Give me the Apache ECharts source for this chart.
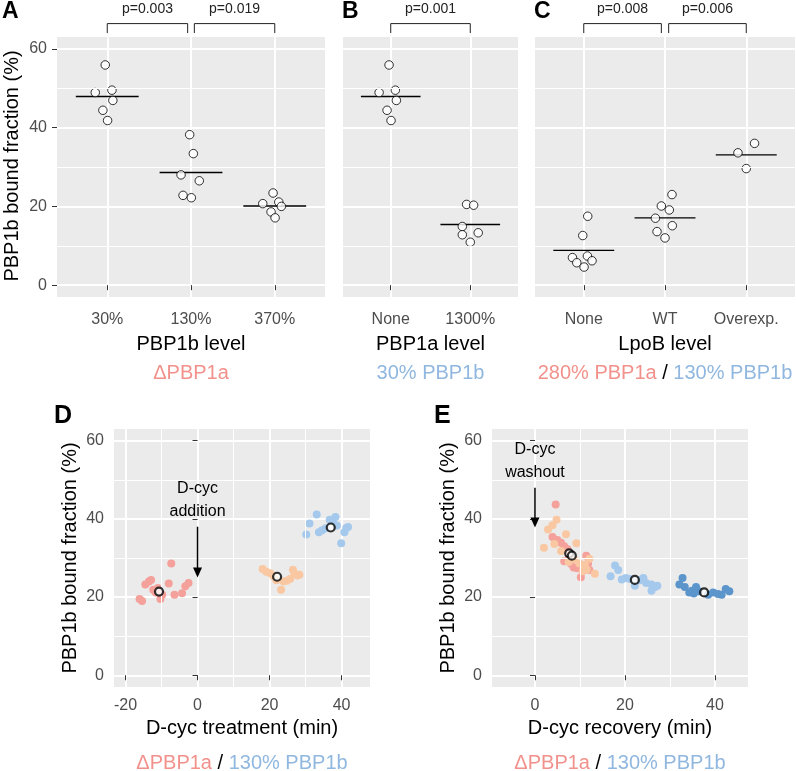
<!DOCTYPE html>
<html><head><meta charset="utf-8">
<script src="https://cdn.jsdelivr.net/npm/echarts@6/dist/echarts.min.js"></script>
<style>html,body{margin:0;padding:0;background:#fff}#c{width:796px;height:771px}</style>
</head><body><div id="c"></div>
<script>
// ================= DATA =================
const catsA = ['30%', '130%', '370%'];
const catsB = ['None', '1300%'];
const catsC = ['None', 'WT', 'Overexp.'];
const yTicks = [0, 20, 40, 60];
const yMinor = [10, 30, 50];
const catTicks3 = [1, 2, 3];
const catTicks2 = [1, 2];
const xTicksD = [-20, 0, 20, 40];
const xMinorD = [-10, 10, 30];
const xTicksE = [0, 20, 40];
const xMinorE = [10, 30];

// Panel A: [category position (1-based, with jitter), bound fraction %]
const pointsA = [
  [0.976, 55.9], [0.857, 48.9], [1.056, 49.5], [1.067, 46.9], [0.948, 44.4], [1.004, 41.8],
  [1.984, 38.2], [2.028, 33.4], [1.881, 28.0], [2.099, 26.5], [1.905, 22.8], [2.004, 22.2],
  [2.980, 23.4], [2.857, 20.7], [3.048, 21.1], [3.079, 20.0], [2.956, 18.6], [3.004, 17.1]
];
const meansA = [[1, 47.9], [2, 28.6], [3, 20.1]];
const bracketsA = [[1, 1.96], [2.04, 3]];
const pValsA = ['p=0.003', 'p=0.019'];

// Panel B
const pointsB = [
  [0.979, 55.9], [0.854, 48.9], [1.058, 49.5], [1.071, 46.9], [0.954, 44.4], [1.004, 41.8],
  [1.954, 20.5], [2.042, 20.3], [1.900, 14.9], [2.100, 13.3], [1.900, 12.8], [2.000, 10.9]
];
const meansB = [[1, 47.9], [2, 15.4]];
const bracketsB = [[1, 2]];
const pValsB = ['p=0.001'];

// Panel C
const pointsC = [
  [1.049, 17.5], [0.988, 12.6], [0.861, 7.0], [1.045, 7.4], [0.914, 5.7], [1.102, 6.2], [1.004, 4.6],
  [2.086, 23.0], [1.955, 20.1], [2.053, 19.1], [1.882, 17.0], [2.090, 15.1], [1.902, 13.6], [2.000, 12.0],
  [3.102, 36.0], [2.898, 33.6], [3.000, 29.6]
];
const meansC = [[1, 8.85], [2, 17.1], [3, 33.1]];
const bracketsC = [[1, 1.955], [2.045, 3]];
const pValsC = ['p=0.008', 'p=0.006'];

// Panel D: [time (min), bound fraction %]
const dPink = [
  [-16.1, 19.5], [-15.4, 19.0], [-14.5, 23.2], [-13.5, 24.0], [-12.9, 24.4], [-12.3, 21.9],
  [-11.6, 21.2], [-11.0, 22.3], [-10.3, 19.5], [-9.8, 20.6], [-8.0, 23.5], [-7.3, 28.6],
  [-6.4, 20.6], [-4.3, 21.0], [-3.4, 22.8], [-2.5, 23.6]
];
const dPeach = [
  [18.1, 27.2], [19.1, 26.5], [20.2, 26.1], [21.1, 25.3], [21.9, 24.3], [23.2, 21.9],
  [23.9, 24.0], [24.8, 24.2], [25.7, 24.6], [26.5, 27.0], [26.9, 26.1], [27.7, 25.5], [28.3, 25.7]
];
const dBlue = [
  [30.2, 36.0], [31.1, 38.8], [33.1, 41.1], [33.7, 36.6], [34.6, 37.1], [35.6, 37.6], [36.7, 39.8],
  [37.6, 39.6], [38.3, 40.5], [38.7, 38.3], [39.9, 33.8], [40.8, 36.6], [41.3, 37.7], [41.8, 37.9]
];
const dMeans = [[-10.7, 21.4], [22.1, 25.2], [37.0, 37.8]];
const dArrow = [[0, 38.0, 25.0, 44.8]];
const dArrowText = ['D-cyc\naddition'];

// Panel E
const ePink = [
  [4.6, 43.7], [3.9, 35.4], [5.0, 34.6], [5.8, 33.9], [6.5, 33.0], [7.2, 32.3], [6.5, 29.2],
  [7.6, 30.4], [8.0, 28.5], [8.6, 27.6], [9.4, 27.4], [10.2, 25.1], [11.4, 30.6], [11.8, 28.6], [12.1, 26.9]
];
const ePeach = [
  [4.8, 39.8], [3.9, 38.4], [2.9, 37.3], [2.0, 32.6], [4.3, 33.6], [6.9, 36.1], [9.2, 33.8], [5.8, 31.8],
  [8.7, 29.6], [9.9, 28.6], [11.1, 28.3], [12.1, 29.8], [11.5, 27.0], [13.3, 26.0], [10.6, 26.6], [7.5, 29.0]
];
const eLightBlue = [
  [16.8, 25.3], [17.8, 28.1], [18.5, 26.9], [19.3, 24.5], [20.2, 24.9], [21.1, 24.6], [22.2, 22.9],
  [23.3, 24.3], [24.1, 24.9], [24.7, 23.6], [25.9, 23.2], [26.7, 22.6], [27.2, 22.9], [25.9, 21.6]
];
const eDarkBlue = [
  [32.1, 23.2], [32.8, 24.9], [33.3, 22.6], [34.3, 21.2], [34.9, 21.6], [35.3, 20.9], [35.8, 22.6],
  [36.4, 21.5], [38.5, 20.6], [39.6, 21.2], [40.7, 20.8], [41.5, 20.6], [42.4, 22.1], [43.2, 21.5]
];
const eMeans = [[7.6, 31.2], [8.2, 30.6], [22.2, 24.4], [37.6, 21.2]];
const eArrow = [[0, 48.0, 37.8, 54.8]];
const eArrowText = ['D-cyc\nwashout'];

// ================= STYLE / LAYOUT =================
const FONT = '"Liberation Sans", Arial, Helvetica, sans-serif';
const BG = '#EBEBEB';
const TICK_COL = '#333333';
const LABEL_COL = '#4D4D4D';
const PINK = '#F5A19B', PEACH = '#F9C8A2', LBLUE = '#A5C9EC', DBLUE = '#5B95CB';
const TXT_PINK = '#F2918B', TXT_BLUE = '#90B7DF';
const Y_MIN = -3, Y_MAX = 63;
const CROSS_HALF = 0.375;
const BR_TOP = 66.4, BR_BOT = 64.0, BR_TXT = 70.0;
const TICK_FS = 16;

const grids = [
  {left: 57, top: 37, width: 268, height: 260},   // A
  {left: 343, top: 37, width: 175, height: 260},  // B
  {left: 535, top: 37, width: 260, height: 260},  // C
  {left: 114, top: 429, width: 256, height: 258}, // D
  {left: 492, top: 429, width: 256, height: 258}  // E
].map(g => Object.assign({show: true, backgroundColor: BG, borderWidth: 0, containLabel: false}, g));

const xAxes = [], yAxes = [];
function addAxis(list, cfg) { list.push(cfg); return list.length - 1; }
function majorAxis(gi, min, max, ticks, showLabels, fmt, margin) {
  return {
    type: 'value', gridIndex: gi, min: min, max: max,
    axisLine: {show: false},
    axisTick: {show: showLabels, customValues: ticks, length: 5, lineStyle: {color: TICK_COL, width: 1}},
    axisLabel: {show: showLabels, customValues: ticks, formatter: fmt, color: LABEL_COL,
      fontSize: TICK_FS, fontFamily: FONT, margin: margin},
    splitLine: {show: true, lineStyle: {color: '#FFFFFF', width: 2}},
    axisPointer: {show: false}
  };
}
const catFmt = cats => (v => cats[Math.round(v) - 1] || '');
const numFmt = v => String(v);

const series = [];
// minor grid lines as markLines on the axis scales
function minorGrid(xi, yi, yVals, xVals, xr, yr) {
  const lines = yVals.map(v => ({yAxis: v})).concat(xVals.map(v => ({xAxis: v})));
  series.push({
    type: 'scatter', xAxisIndex: xi, yAxisIndex: yi,
    data: yVals.map(v => [xr[0], v]), symbolSize: 0, silent: true, z: 2,
    itemStyle: {opacity: 0},
    markLine: {
      silent: true, symbol: ['none', 'none'], animation: false, precision: 4,
      label: {show: false}, emphasis: {disabled: true},
      lineStyle: {color: '#FFFFFF', width: 1, type: 'solid', opacity: 1},
      data: lines
    }
  });
}

const panels = [
  {cats: catsA, ticks: catTicks3, pts: pointsA, means: meansA, br: bracketsA, p: pValsA, ylab: true},
  {cats: catsB, ticks: catTicks2, pts: pointsB, means: meansB, br: bracketsB, p: pValsB, ylab: false},
  {cats: catsC, ticks: catTicks3, pts: pointsC, means: meansC, br: bracketsC, p: pValsC, ylab: false}
];

panels.forEach((pn, gi) => {
  const xr = [0.4, pn.cats.length + 0.6];
  const xi = addAxis(xAxes, majorAxis(gi, xr[0], xr[1], pn.ticks, true, catFmt(pn.cats), 15));
  const yi = addAxis(yAxes, majorAxis(gi, Y_MIN, Y_MAX, yTicks, pn.ylab, numFmt, 10));
  minorGrid(xi, yi, yMinor, [], xr, [Y_MIN, Y_MAX]);
  // mean crossbar
  series.push({
    type: 'custom', xAxisIndex: xi, yAxisIndex: yi, data: pn.means, encode: {x: 0, y: 1},
    clip: false, silent: true, z: 3,
    renderItem: function (params, api) {
      const x = api.value(0), y = api.value(1);
      const a = api.coord([x - CROSS_HALF, y]), b = api.coord([x + CROSS_HALF, y]);
      return {type: 'line', shape: {x1: a[0], y1: a[1], x2: b[0], y2: b[1]},
        style: {stroke: '#000', lineWidth: 1.3}};
    }
  });
  // points
  series.push({
    type: 'scatter', xAxisIndex: xi, yAxisIndex: yi, data: pn.pts, symbol: 'circle', symbolSize: 8.5,
    itemStyle: {color: '#FFFFFF', borderColor: '#000', borderWidth: 1}, silent: true, z: 4
  });
  // significance brackets
  const labels = pn.p;
  series.push({
    type: 'custom', xAxisIndex: xi, yAxisIndex: yi, data: pn.br, encode: {x: [0, 1]},
    clip: false, silent: true, z: 5,
    renderItem: function (params, api) {
      const x1 = api.value(0), x2 = api.value(1);
      const p1 = api.coord([x1, BR_BOT]), p2 = api.coord([x1, BR_TOP]);
      const p3 = api.coord([x2, BR_TOP]), p4 = api.coord([x2, BR_BOT]);
      const t = api.coord([(x1 + x2) / 2, BR_TXT]);
      return {type: 'group', children: [
        {type: 'polyline', shape: {points: [p1, p2, p3, p4]}, style: {stroke: '#222', lineWidth: 1, fill: null}},
        {type: 'text', x: t[0], y: t[1], style: {text: labels[params.dataIndex], fill: '#222',
          font: '14px ' + FONT, align: 'center', verticalAlign: 'middle'}}
      ]};
    }
  });
});

const scatterPanels = [
  {min: -23.2, max: 47.9, ticks: xTicksD, minor: xMinorD,
   groups: [[dPink, PINK], [dPeach, PEACH], [dBlue, LBLUE]], means: dMeans, arrow: dArrow, arrowText: dArrowText},
  {min: -9.55, max: 47.35, ticks: xTicksE, minor: xMinorE,
   groups: [[ePink, PINK], [ePeach, PEACH], [eLightBlue, LBLUE], [eDarkBlue, DBLUE]], means: eMeans, arrow: eArrow, arrowText: eArrowText}
];
scatterPanels.forEach((sp, k) => {
  const gi = 3 + k;
  const xr = [sp.min, sp.max], yr = [Y_MIN, Y_MAX];
  const xi = addAxis(xAxes, majorAxis(gi, sp.min, sp.max, sp.ticks, true, numFmt, 11));
  const yi = addAxis(yAxes, majorAxis(gi, Y_MIN, Y_MAX, yTicks, true, numFmt, 10));
  minorGrid(xi, yi, yMinor, sp.minor, xr, yr);
  sp.groups.forEach((g, j) => {
    series.push({
      type: 'scatter', xAxisIndex: xi, yAxisIndex: yi, data: g[0], symbol: 'circle', symbolSize: 8,
      itemStyle: {color: g[1], opacity: 1}, silent: true, z: 3
    });
  });
  series.push({
    type: 'scatter', xAxisIndex: xi, yAxisIndex: yi, data: sp.means, symbol: 'circle', symbolSize: 8,
    itemStyle: {color: '#FFFFFF', borderColor: '#000', borderWidth: 2.2}, silent: true, z: 5
  });
  const txt = sp.arrowText;
  series.push({
    type: 'custom', xAxisIndex: xi, yAxisIndex: yi, data: sp.arrow, encode: {x: 0, y: [1, 2]},
    clip: false, silent: true, z: 6,
    renderItem: function (params, api) {
      const x = api.value(0);
      const a = api.coord([x, api.value(1)]), b = api.coord([x, api.value(2)]);
      const t = api.coord([x, api.value(3)]);
      const HL = 10, HW = 4.5;
      return {type: 'group', children: [
        {type: 'line', shape: {x1: a[0], y1: a[1], x2: b[0], y2: b[1] - HL + 1}, style: {stroke: '#000', lineWidth: 1.5}},
        {type: 'polygon', shape: {points: [[b[0], b[1]], [b[0] - HW, b[1] - HL], [b[0] + HW, b[1] - HL]]}, style: {fill: '#000'}},
        {type: 'text', x: t[0], y: t[1], style: {text: txt[params.dataIndex], fill: '#000',
          font: '16px ' + FONT, align: 'center', verticalAlign: 'middle', lineHeight: 23}}
      ]};
    }
  });
});

// ================= TEXT (titles, letters) =================
function txt(x, y, text, size, opts) {
  return Object.assign({type: 'text', x: x, y: y, silent: true,
    style: Object.assign({text: text, font: size + 'px ' + FONT, fill: '#000', align: 'center', verticalAlign: 'middle'}, opts || {})});
}
function vtxt(x, y, text) {
  const t = txt(x, y, text, 20);
  t.rotation = Math.PI / 2;
  return t;
}
const rich = {
  r: {fill: TXT_PINK, color: TXT_PINK, fontSize: 20, fontFamily: FONT},
  k: {fill: '#000', color: '#000', fontSize: 20, fontFamily: FONT},
  b: {fill: TXT_BLUE, color: TXT_BLUE, fontSize: 20, fontFamily: FONT}
};
function richTxt(x, y, text) {
  return {type: 'text', x: x, y: y, silent: true,
    style: {text: text, rich: rich, font: '20px ' + FONT, align: 'center', verticalAlign: 'middle'}};
}
const graphics = [
  txt(2, 11.5, 'A', 23, {font: 'bold 23px ' + FONT, align: 'left'}),
  txt(342, 11.5, 'B', 23, {font: 'bold 23px ' + FONT, align: 'left'}),
  txt(534, 11.5, 'C', 23, {font: 'bold 23px ' + FONT, align: 'left'}),
  txt(54, 416, 'D', 24, {font: 'bold 25px ' + FONT, align: 'left'}),
  txt(434, 416, 'E', 24, {font: 'bold 25px ' + FONT, align: 'left'}),
  vtxt(12, 166, 'PBP1b bound fraction (%)'),
  vtxt(70, 558, 'PBP1b bound fraction (%)'),
  vtxt(448, 558, 'PBP1b bound fraction (%)'),
  txt(191, 344, 'PBP1b level', 20),
  txt(430.5, 344, 'PBP1a level', 20),
  txt(665, 344, 'LpoB level', 20),
  txt(242, 728.5, 'D-cyc treatment (min)', 20),
  txt(620, 728.5, 'D-cyc recovery (min)', 20),
  richTxt(191, 373.5, '{r|ΔPBP1a}'),
  richTxt(430.5, 373.5, '{b|30% PBP1b}'),
  richTxt(665, 373.5, '{r|280% PBP1a}{k| / }{b|130% PBP1b}'),
  richTxt(242, 763, '{r|ΔPBP1a}{k| / }{b|130% PBP1b}'),
  richTxt(620, 763, '{r|ΔPBP1a}{k| / }{b|130% PBP1b}')
];

const chart = echarts.init(document.getElementById('c'), null, {renderer: 'canvas'});
chart.setOption({
  animation: false,
  backgroundColor: '#FFFFFF',
  textStyle: {fontFamily: FONT},
  grid: grids,
  xAxis: xAxes,
  yAxis: yAxes,
  series: series,
  graphic: graphics
});
</script></body></html>
